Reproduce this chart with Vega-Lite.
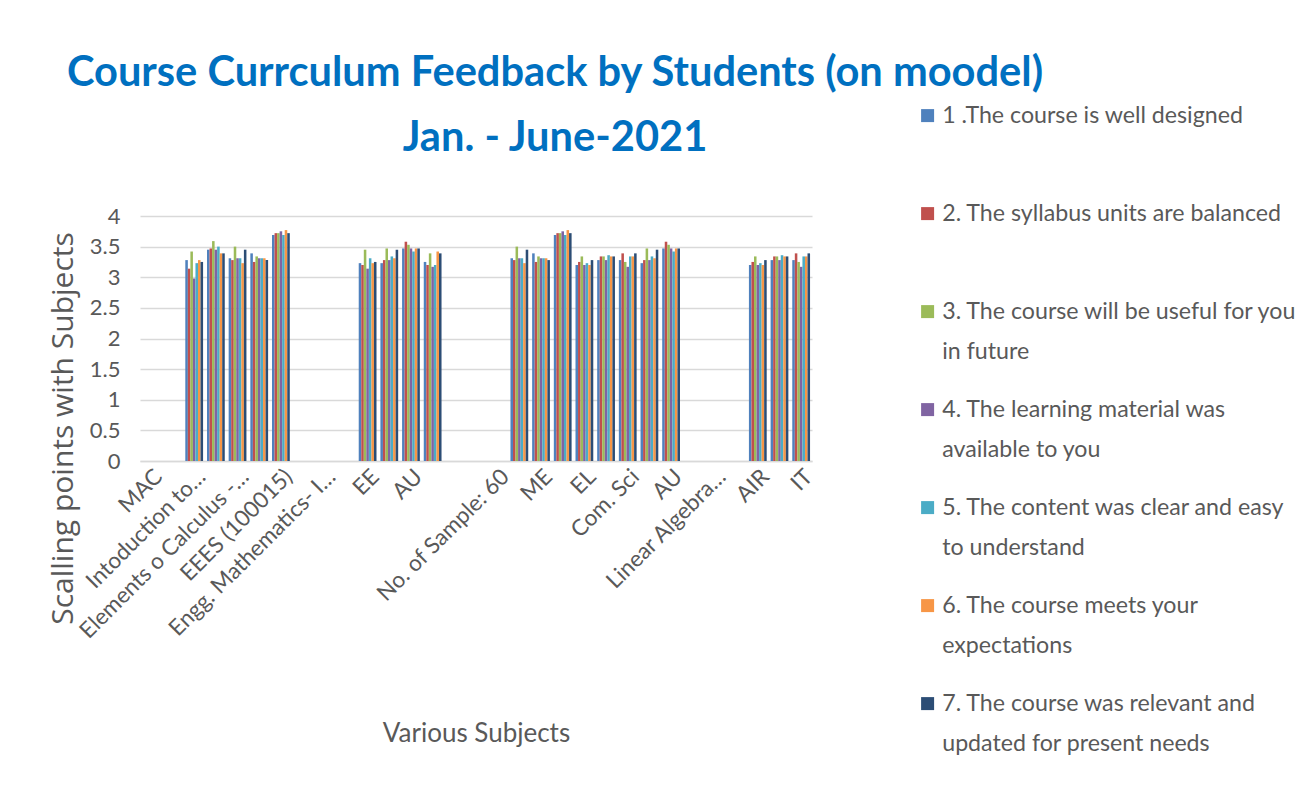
{
  "$schema": "https://vega.github.io/schema/vega-lite/v6.json",
  "autosize": {"type": "none"},
  "width": 672,
  "height": 245,
  "padding": {"left": 140, "top": 216, "right": 487, "bottom": 330},
  "background": "white",
  "title": {
    "text": ["Course Currculum Feedback by Students (on moodel)", "Jan. - June-2021"],
    "anchor": "middle",
    "frame": "group",
    "dx": 79,
    "dy": 106,
    "offset": 50,
    "font": "Lato",
    "fontWeight": "bold",
    "fontSize": 41.6,
    "lineHeight": 65,
    "color": "#0070C0"
  },
  "config": {
    "view": {"stroke": null},
    "axis": {"labelFont": "Lato", "titleFont": "Lato", "labelColor": "#595959", "titleColor": "#595959", "titleFontWeight": "normal"}
  },
  "data": {
    "values": [
      {"row": 2, "q": "1 .The course is well designed", "v": 3.28},
      {"row": 2, "q": "2. The syllabus units are balanced", "v": 3.14},
      {"row": 2, "q": "3. The course will be useful for you in future", "v": 3.42},
      {"row": 2, "q": "4. The learning material was available to you", "v": 2.98},
      {"row": 2, "q": "5. The content was clear and easy to understand", "v": 3.23},
      {"row": 2, "q": "6. The course meets your expectations", "v": 3.28},
      {"row": 2, "q": "7. The course was relevant and updated for present needs", "v": 3.25},
      {"row": 3, "q": "1 .The course is well designed", "v": 3.45},
      {"row": 3, "q": "2. The syllabus units are balanced", "v": 3.47},
      {"row": 3, "q": "3. The course will be useful for you in future", "v": 3.59},
      {"row": 3, "q": "4. The learning material was available to you", "v": 3.45},
      {"row": 3, "q": "5. The content was clear and easy to understand", "v": 3.5},
      {"row": 3, "q": "6. The course meets your expectations", "v": 3.39},
      {"row": 3, "q": "7. The course was relevant and updated for present needs", "v": 3.39},
      {"row": 4, "q": "1 .The course is well designed", "v": 3.31},
      {"row": 4, "q": "2. The syllabus units are balanced", "v": 3.28},
      {"row": 4, "q": "3. The course will be useful for you in future", "v": 3.5},
      {"row": 4, "q": "4. The learning material was available to you", "v": 3.31},
      {"row": 4, "q": "5. The content was clear and easy to understand", "v": 3.31},
      {"row": 4, "q": "6. The course meets your expectations", "v": 3.23},
      {"row": 4, "q": "7. The course was relevant and updated for present needs", "v": 3.45},
      {"row": 5, "q": "1 .The course is well designed", "v": 3.39},
      {"row": 5, "q": "2. The syllabus units are balanced", "v": 3.25},
      {"row": 5, "q": "3. The course will be useful for you in future", "v": 3.34},
      {"row": 5, "q": "4. The learning material was available to you", "v": 3.31},
      {"row": 5, "q": "5. The content was clear and easy to understand", "v": 3.31},
      {"row": 5, "q": "6. The course meets your expectations", "v": 3.31},
      {"row": 5, "q": "7. The course was relevant and updated for present needs", "v": 3.28},
      {"row": 6, "q": "1 .The course is well designed", "v": 3.69},
      {"row": 6, "q": "2. The syllabus units are balanced", "v": 3.72},
      {"row": 6, "q": "3. The course will be useful for you in future", "v": 3.72},
      {"row": 6, "q": "4. The learning material was available to you", "v": 3.75},
      {"row": 6, "q": "5. The content was clear and easy to understand", "v": 3.69},
      {"row": 6, "q": "6. The course meets your expectations", "v": 3.77},
      {"row": 6, "q": "7. The course was relevant and updated for present needs", "v": 3.72},
      {"row": 10, "q": "1 .The course is well designed", "v": 3.23},
      {"row": 10, "q": "2. The syllabus units are balanced", "v": 3.2},
      {"row": 10, "q": "3. The course will be useful for you in future", "v": 3.45},
      {"row": 10, "q": "4. The learning material was available to you", "v": 3.14},
      {"row": 10, "q": "5. The content was clear and easy to understand", "v": 3.31},
      {"row": 10, "q": "6. The course meets your expectations", "v": 3.23},
      {"row": 10, "q": "7. The course was relevant and updated for present needs", "v": 3.25},
      {"row": 11, "q": "1 .The course is well designed", "v": 3.23},
      {"row": 11, "q": "2. The syllabus units are balanced", "v": 3.28},
      {"row": 11, "q": "3. The course will be useful for you in future", "v": 3.47},
      {"row": 11, "q": "4. The learning material was available to you", "v": 3.28},
      {"row": 11, "q": "5. The content was clear and easy to understand", "v": 3.34},
      {"row": 11, "q": "6. The course meets your expectations", "v": 3.31},
      {"row": 11, "q": "7. The course was relevant and updated for present needs", "v": 3.45},
      {"row": 12, "q": "1 .The course is well designed", "v": 3.47},
      {"row": 12, "q": "2. The syllabus units are balanced", "v": 3.58},
      {"row": 12, "q": "3. The course will be useful for you in future", "v": 3.53},
      {"row": 12, "q": "4. The learning material was available to you", "v": 3.47},
      {"row": 12, "q": "5. The content was clear and easy to understand", "v": 3.42},
      {"row": 12, "q": "6. The course meets your expectations", "v": 3.47},
      {"row": 12, "q": "7. The course was relevant and updated for present needs", "v": 3.47},
      {"row": 13, "q": "1 .The course is well designed", "v": 3.25},
      {"row": 13, "q": "2. The syllabus units are balanced", "v": 3.2},
      {"row": 13, "q": "3. The course will be useful for you in future", "v": 3.39},
      {"row": 13, "q": "4. The learning material was available to you", "v": 3.17},
      {"row": 13, "q": "5. The content was clear and easy to understand", "v": 3.2},
      {"row": 13, "q": "6. The course meets your expectations", "v": 3.42},
      {"row": 13, "q": "7. The course was relevant and updated for present needs", "v": 3.39},
      {"row": 17, "q": "1 .The course is well designed", "v": 3.31},
      {"row": 17, "q": "2. The syllabus units are balanced", "v": 3.28},
      {"row": 17, "q": "3. The course will be useful for you in future", "v": 3.5},
      {"row": 17, "q": "4. The learning material was available to you", "v": 3.31},
      {"row": 17, "q": "5. The content was clear and easy to understand", "v": 3.31},
      {"row": 17, "q": "6. The course meets your expectations", "v": 3.23},
      {"row": 17, "q": "7. The course was relevant and updated for present needs", "v": 3.45},
      {"row": 18, "q": "1 .The course is well designed", "v": 3.39},
      {"row": 18, "q": "2. The syllabus units are balanced", "v": 3.25},
      {"row": 18, "q": "3. The course will be useful for you in future", "v": 3.34},
      {"row": 18, "q": "4. The learning material was available to you", "v": 3.31},
      {"row": 18, "q": "5. The content was clear and easy to understand", "v": 3.31},
      {"row": 18, "q": "6. The course meets your expectations", "v": 3.31},
      {"row": 18, "q": "7. The course was relevant and updated for present needs", "v": 3.28},
      {"row": 19, "q": "1 .The course is well designed", "v": 3.69},
      {"row": 19, "q": "2. The syllabus units are balanced", "v": 3.72},
      {"row": 19, "q": "3. The course will be useful for you in future", "v": 3.72},
      {"row": 19, "q": "4. The learning material was available to you", "v": 3.75},
      {"row": 19, "q": "5. The content was clear and easy to understand", "v": 3.69},
      {"row": 19, "q": "6. The course meets your expectations", "v": 3.77},
      {"row": 19, "q": "7. The course was relevant and updated for present needs", "v": 3.72},
      {"row": 20, "q": "1 .The course is well designed", "v": 3.2},
      {"row": 20, "q": "2. The syllabus units are balanced", "v": 3.25},
      {"row": 20, "q": "3. The course will be useful for you in future", "v": 3.34},
      {"row": 20, "q": "4. The learning material was available to you", "v": 3.2},
      {"row": 20, "q": "5. The content was clear and easy to understand", "v": 3.23},
      {"row": 20, "q": "6. The course meets your expectations", "v": 3.2},
      {"row": 20, "q": "7. The course was relevant and updated for present needs", "v": 3.28},
      {"row": 21, "q": "1 .The course is well designed", "v": 3.28},
      {"row": 21, "q": "2. The syllabus units are balanced", "v": 3.34},
      {"row": 21, "q": "3. The course will be useful for you in future", "v": 3.34},
      {"row": 21, "q": "4. The learning material was available to you", "v": 3.28},
      {"row": 21, "q": "5. The content was clear and easy to understand", "v": 3.36},
      {"row": 21, "q": "6. The course meets your expectations", "v": 3.34},
      {"row": 21, "q": "7. The course was relevant and updated for present needs", "v": 3.34},
      {"row": 22, "q": "1 .The course is well designed", "v": 3.28},
      {"row": 22, "q": "2. The syllabus units are balanced", "v": 3.39},
      {"row": 22, "q": "3. The course will be useful for you in future", "v": 3.25},
      {"row": 22, "q": "4. The learning material was available to you", "v": 3.17},
      {"row": 22, "q": "5. The content was clear and easy to understand", "v": 3.34},
      {"row": 22, "q": "6. The course meets your expectations", "v": 3.34},
      {"row": 22, "q": "7. The course was relevant and updated for present needs", "v": 3.39},
      {"row": 23, "q": "1 .The course is well designed", "v": 3.23},
      {"row": 23, "q": "2. The syllabus units are balanced", "v": 3.28},
      {"row": 23, "q": "3. The course will be useful for you in future", "v": 3.47},
      {"row": 23, "q": "4. The learning material was available to you", "v": 3.28},
      {"row": 23, "q": "5. The content was clear and easy to understand", "v": 3.34},
      {"row": 23, "q": "6. The course meets your expectations", "v": 3.31},
      {"row": 23, "q": "7. The course was relevant and updated for present needs", "v": 3.45},
      {"row": 24, "q": "1 .The course is well designed", "v": 3.47},
      {"row": 24, "q": "2. The syllabus units are balanced", "v": 3.58},
      {"row": 24, "q": "3. The course will be useful for you in future", "v": 3.53},
      {"row": 24, "q": "4. The learning material was available to you", "v": 3.47},
      {"row": 24, "q": "5. The content was clear and easy to understand", "v": 3.42},
      {"row": 24, "q": "6. The course meets your expectations", "v": 3.47},
      {"row": 24, "q": "7. The course was relevant and updated for present needs", "v": 3.47},
      {"row": 28, "q": "1 .The course is well designed", "v": 3.2},
      {"row": 28, "q": "2. The syllabus units are balanced", "v": 3.25},
      {"row": 28, "q": "3. The course will be useful for you in future", "v": 3.34},
      {"row": 28, "q": "4. The learning material was available to you", "v": 3.2},
      {"row": 28, "q": "5. The content was clear and easy to understand", "v": 3.23},
      {"row": 28, "q": "6. The course meets your expectations", "v": 3.2},
      {"row": 28, "q": "7. The course was relevant and updated for present needs", "v": 3.28},
      {"row": 29, "q": "1 .The course is well designed", "v": 3.28},
      {"row": 29, "q": "2. The syllabus units are balanced", "v": 3.34},
      {"row": 29, "q": "3. The course will be useful for you in future", "v": 3.34},
      {"row": 29, "q": "4. The learning material was available to you", "v": 3.28},
      {"row": 29, "q": "5. The content was clear and easy to understand", "v": 3.36},
      {"row": 29, "q": "6. The course meets your expectations", "v": 3.34},
      {"row": 29, "q": "7. The course was relevant and updated for present needs", "v": 3.34},
      {"row": 30, "q": "1 .The course is well designed", "v": 3.28},
      {"row": 30, "q": "2. The syllabus units are balanced", "v": 3.39},
      {"row": 30, "q": "3. The course will be useful for you in future", "v": 3.25},
      {"row": 30, "q": "4. The learning material was available to you", "v": 3.17},
      {"row": 30, "q": "5. The content was clear and easy to understand", "v": 3.34},
      {"row": 30, "q": "6. The course meets your expectations", "v": 3.34},
      {"row": 30, "q": "7. The course was relevant and updated for present needs", "v": 3.39}
    ]
  },
  "mark": {"type": "bar"},
  "encoding": {
    "x": {
      "field": "row",
      "type": "ordinal",
      "scale": {"domain": [0,1,2,3,4,5,6,7,8,9,10,11,12,13,14,15,16,17,18,19,20,21,22,23,24,25,26,27,28,29,30], "paddingInner": 0.18, "paddingOuter": 0.09},
      "axis": {
        "title": "Various Subjects",
        "titleFontSize": 26,
        "titleY": 272,
        "titleBaseline": "middle",
        "labelAngle": -45,
        "labelFontSize": 22.5,
        "labelPadding": 4,
        "labelLimit": 400,
        "labelOverlap": false,
        "ticks": false,
        "domainColor": "#D9D9D9",
        "domainWidth": 1.5,
        "labelExpr": "['MAC','','Intoduction to…','','Elements o Calculus -…','','EEES (100015)','','Engg. Mathematics- I…','','EE','','AU','','','','No. of Sample: 60','','ME','','EL','','Com. Sci','','AU','','Linear Algebra…','','AIR','','IT'][datum.value]"
      }
    },
    "y": {
      "field": "v",
      "type": "quantitative",
      "scale": {"domain": [0, 4]},
      "axis": {
        "title": "Scalling points with Subjects",
        "titleFont": "Open Sans",
        "titleFontSize": 30,
        "titleX": -77,
        "titleY": 212,
        "titleAlign": "center",
        "titleBaseline": "middle",
        "values": [0, 0.5, 1, 1.5, 2, 2.5, 3, 3.5, 4],
        "labelExpr": "datum.value",
        "labelFontSize": 22,
        "labelPadding": 20,
        "ticks": false,
        "domain": false,
        "gridColor": "#D9D9D9",
        "gridWidth": 1.5
      }
    },
    "xOffset": {"field": "q", "type": "nominal"},
    "color": {
      "field": "q",
      "type": "nominal",
      "scale": {
        "domain": ["1 .The course is well designed", "2. The syllabus units are balanced", "3. The course will be useful for you in future", "4. The learning material was available to you", "5. The content was clear and easy to understand", "6. The course meets your expectations", "7. The course was relevant and updated for present needs"],
        "range": ["#4F81BD", "#C0504D", "#9BBB59", "#8064A2", "#4BACC6", "#F79646", "#2C4D75"]
      },
      "legend": {
        "title": null,
        "orient": "none",
        "legendX": 776,
        "legendY": -112,
        "symbolType": "square",
        "symbolSize": 169,
        "symbolStrokeWidth": 0,
        "labelFont": "Lato",
        "labelFontSize": 23.2,
        "labelColor": "#595959",
        "labelLimit": 500,
        "labelOffset": 3,
        "gridAlign": "all",
        "rowPadding": 34,
        "encode": {"labels": {"update": {"lineHeight": {"value": 40}}}},
        "labelExpr": "datum.value == '3. The course will be useful for you in future' ? ['3. The course will be useful for you', 'in future'] : datum.value == '4. The learning material was available to you' ? ['4. The learning material was', 'available to you'] : datum.value == '5. The content was clear and easy to understand' ? ['5. The content was clear and easy', 'to understand'] : datum.value == '6. The course meets your expectations' ? ['6. The course meets your', 'expectations'] : datum.value == '7. The course was relevant and updated for present needs' ? ['7. The course was relevant and', 'updated for present needs'] : datum.value"
      }
    }
  }
}
